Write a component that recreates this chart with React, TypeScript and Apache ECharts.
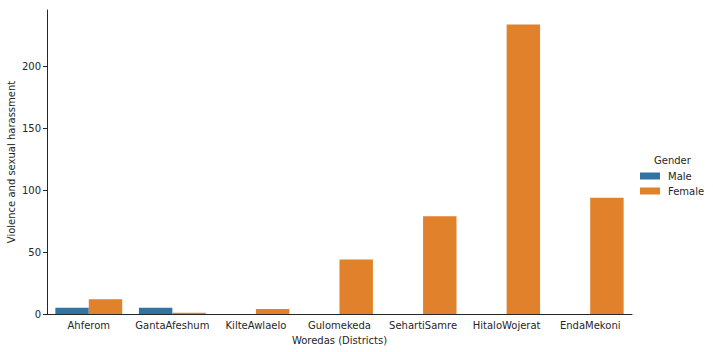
import React, { useEffect, useRef } from "react";
import * as echarts from "echarts";

const categories = ["Ahferom", "GantaAfeshum", "KilteAwlaelo", "Gulomekeda", "SehartiSamre", "HitaloWojerat", "EndaMekoni"];
const maleValues = [5, 5, 0, 0, 0, 0, 0];
const femaleValues = [12, 1, 4, 44, 79, 234, 94];
const yTicks = [0, 50, 100, 150, 200];

const FONT = "DejaVu Sans";
const TEXT = "#262626";

export default function App() {
  const ref = useRef<HTMLDivElement>(null);
  useEffect(() => {
    if (!ref.current) return;
    const chart = echarts.init(ref.current, undefined, { renderer: "svg" });
    chart.setOption({
      animation: false,
      textStyle: { fontFamily: FONT, color: TEXT },
      grid: { left: 47, right: 81, top: 10, bottom: 38, containLabel: false, outerBoundsMode: "none" },
      legend: {
        orient: "vertical",
        left: 640,
        top: 171,
        padding: 0,
        itemWidth: 20,
        itemHeight: 7,
        itemGap: 5,
        icon: "rect",
        textStyle: { fontFamily: FONT, fontSize: 10, color: TEXT, padding: [0, 0, 0, 3] },
        data: ["Male", "Female"],
      },
      graphic: [
        {
          type: "text",
          left: 654,
          top: 155,
          style: { text: "Gender", fontFamily: FONT, fontSize: 10, fill: TEXT },
        },
      ],
      xAxis: {
        type: "category",
        data: categories,
        name: "Woredas (Districts)",
        nameLocation: "middle",
        nameGap: 21,
        nameMoveOverlap: false,
        nameTextStyle: { fontFamily: FONT, fontSize: 10, color: TEXT },
        axisLine: { lineStyle: { color: TEXT, width: 1 } },
        axisTick: { alignWithLabel: true, length: 4, lineStyle: { color: TEXT } },
        axisLabel: { fontFamily: FONT, fontSize: 10, color: TEXT, margin: 6, interval: 0 },
        splitLine: { show: false },
      },
      yAxis: {
        type: "value",
        min: 0,
        max: 245.7,
        interval: 50,
        name: "Violence and sexual harassment",
        nameLocation: "middle",
        nameGap: 31,
        nameMoveOverlap: false,
        nameTextStyle: { fontFamily: FONT, fontSize: 10, color: TEXT },
        axisLine: { show: true, lineStyle: { color: TEXT, width: 1 } },
        axisTick: { show: true, length: 4, lineStyle: { color: TEXT } },
        axisLabel: {
          fontFamily: FONT,
          fontSize: 10,
          color: TEXT,
          margin: 6,
          showMaxLabel: false,
          formatter: (v: number) => (yTicks.includes(v) ? String(v) : ""),
        },
        splitLine: { show: false },
      },
      series: [
        {
          name: "Male",
          type: "bar",
          data: maleValues,
          itemStyle: { color: "#3274a1" },
          barGap: "0%",
          barCategoryGap: "20%",
        },
        {
          name: "Female",
          type: "bar",
          data: femaleValues,
          itemStyle: { color: "#e1812c" },
          barGap: "0%",
          barCategoryGap: "20%",
        },
      ],
    });
    return () => chart.dispose();
  }, []);
  return (
    <div
      ref={ref}
      style={{ position: "fixed", left: 0, top: 0, width: 713, height: 352, background: "#fff" }}
    />
  );
}
